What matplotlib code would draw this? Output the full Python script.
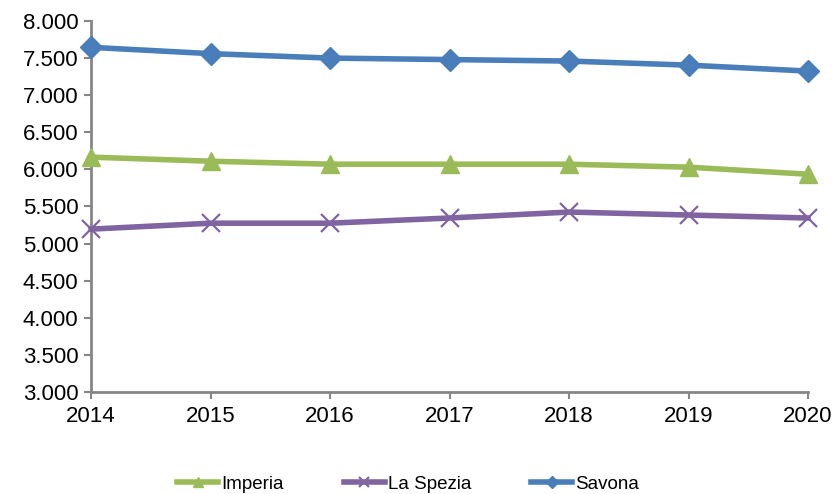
import matplotlib.pyplot as plt
from matplotlib.ticker import FuncFormatter

plt.rcParams['font.family'] = ['Liberation Sans', 'DejaVu Sans']

years = [2014, 2015, 2016, 2017, 2018, 2019, 2020]
imperia = [6165, 6110, 6070, 6070, 6070, 6030, 5935]
la_spezia = [5195, 5275, 5275, 5345, 5425, 5385, 5345]
savona = [7645, 7560, 7500, 7480, 7460, 7405, 7325]

fig = plt.figure(figsize=(8.36, 4.94), dpi=100)
ax = fig.add_axes([0.109, 0.2065, 0.8575, 0.751])

ax.plot(years, imperia, color='#9BBB59', lw=4, marker='^', ms=13, label='Imperia', clip_on=False, zorder=3)
ax.plot(years, la_spezia, color='#8064A2', lw=4, marker='x', ms=13, mew=1.6, label='La Spezia', clip_on=False, zorder=3)
ax.plot(years, savona, color='#4A7EBB', lw=4, marker='D', ms=11, label='Savona', clip_on=False, zorder=3)

ax.set_xlim(2014, 2020)
ax.set_ylim(3000, 8000)
ax.set_yticks(range(3000, 8001, 500))
ax.set_xticks(years)
ax.yaxis.set_major_formatter(FuncFormatter(lambda v, p: f'{int(v):,}'.replace(',', '.')))

for s in ['top', 'right']:
    ax.spines[s].set_visible(False)
for s in ['left', 'bottom']:
    ax.spines[s].set_color('#868686')
    ax.spines[s].set_linewidth(2)
ax.tick_params(axis='both', colors='#868686', labelcolor='black', labelsize=16, width=1.5, length=5)
ax.tick_params(axis='y', pad=4)
ax.tick_params(axis='x', pad=5)

fig.legend(loc='center', bbox_to_anchor=(0.488, 0.02), ncol=3, frameon=False,
           fontsize=13.5, columnspacing=3.2, handlelength=2.2, handletextpad=0.15,
           markerscale=0.6)

fig.savefig('out.png', dpi=100)
